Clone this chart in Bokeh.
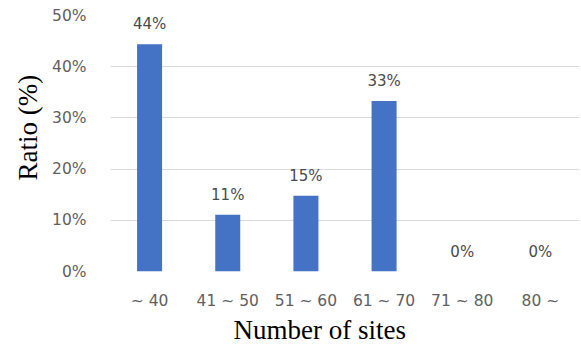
from bokeh.plotting import figure
from bokeh.models import ColumnDataSource, Title, LabelSet, Range1d, CustomJSTickFormatter
from bokeh.core.properties import value
from bokeh.embed import file_html
from bokeh.resources import INLINE

# Share of sites by number of sites
categories = ["~ 40", "41 ~ 50", "51 ~ 60", "61 ~ 70", "71 ~ 80", "80 ~"]
ratios = [44.4, 11.1, 14.8, 33.3, 0.0, 0.0]
y_ticks = [0, 10, 20, 30, 40, 50]

labels = [f"{round(r):.0f}%" for r in ratios]
source = ColumnDataSource(dict(cat=categories, ratio=ratios, label=labels))

TICK_FONT = "DejaVu Sans"

p = figure(
    x_range=categories,
    y_range=Range1d(0, 50),
    width=581,
    height=346,
    output_backend="svg",
    toolbar_location=None,
    min_border_left=110,
    min_border_right=2,
    min_border_top=15,
    min_border_bottom=75,
)
p.outline_line_color = None
p.background_fill_color = "white"
p.border_fill_color = "white"

p.vbar(x="cat", top="ratio", width=0.32, source=source,
       fill_color="#4472C4", line_color=None)

p.add_layout(LabelSet(x="cat", y="ratio", text="label", source=source,
                      y_offset=15, text_align="center", text_baseline="alphabetic",
                      text_font=value(TICK_FONT), text_font_size="15px",
                      text_color="#4a4a4a"))

# axes
p.yaxis.ticker = y_ticks
p.yaxis.formatter = CustomJSTickFormatter(code="return tick + '%';")
for ax in (p.xaxis, p.yaxis):
    ax.axis_line_color = None
    ax.major_tick_line_color = None
    ax.minor_tick_line_color = None
    ax.major_label_text_font = TICK_FONT
    ax.major_label_text_font_size = "15.5px"
    ax.major_label_text_color = "#5f5f5f"
p.yaxis.major_label_standoff = 18
p.xaxis.major_label_standoff = 14

p.xgrid.grid_line_color = None
p.ygrid.grid_line_color = "#D9D9D9"
p.ygrid.grid_line_width = 1

# axis titles
p.add_layout(Title(text="Number of sites", align="left", offset=123,
                   text_font="Liberation Serif", text_font_size="27px",
                   text_font_style="normal", text_color="black", standoff=0),
             "below")
p.add_layout(Title(text="Ratio (%)", align="left", offset=91,
                   text_font="Liberation Serif", text_font_size="27px",
                   text_font_style="normal", text_color="black", standoff=14),
             "left")

open("out.html", "w").write(file_html(p, INLINE))
